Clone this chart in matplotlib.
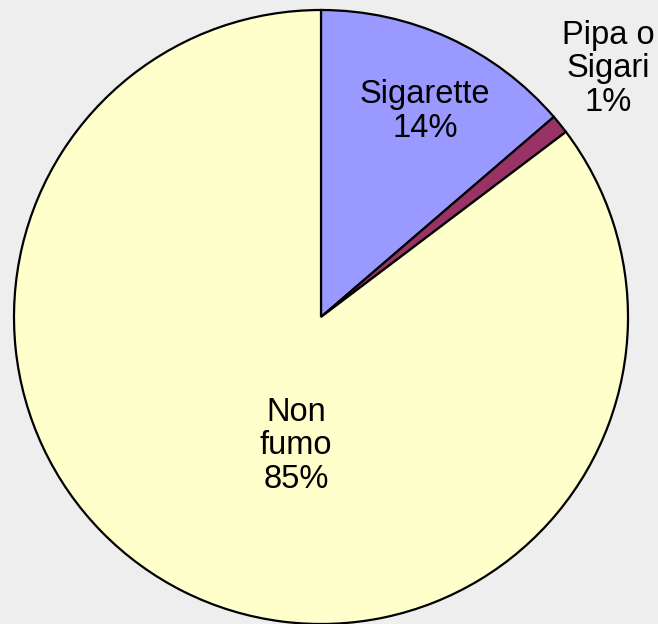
"""Pie chart: smoking habits (Sigarette / Pipa o Sigari / Non fumo)."""

import matplotlib.pyplot as plt

categories = ["Sigarette", "Pipa o\nSigari", "Non\nfumo"]
values = [13.7, 1.0, 85.3]
pct_labels = ["14%", "1%", "85%"]
colors = ["#9999ff", "#993366", "#ffffcc"]

# label anchor points (data units, pie radius = 1)
label_pos = [(0.339, 0.668), (0.935, 0.808), (-0.081, -0.420)]

BG = "#eeeeee"
R_PX = 307.0
CX, CY = 321.0, 317.0
W, H = 658, 624

fig = plt.figure(figsize=(W / 100, H / 100), dpi=100, facecolor=BG)
ax = fig.add_axes([0, 0, 1, 1])
ax.set_facecolor(BG)

ax.pie(
    values,
    colors=colors,
    startangle=90,
    counterclock=False,
    radius=1.0,
    wedgeprops=dict(edgecolor="black", linewidth=1.6),
)

for name, pct, (x, y) in zip(categories, pct_labels, label_pos):
    ax.text(x, y, f"{name}\n{pct}", ha="center", va="center",
            fontsize=23.5, family="Liberation Sans", linespacing=1.12)

ax.set_xlim(-CX / R_PX, (W - CX) / R_PX)
ax.set_ylim(-(H - CY) / R_PX, CY / R_PX)
ax.set_aspect("equal")
ax.axis("off")

fig.savefig("out.png", dpi=100, facecolor=BG)
